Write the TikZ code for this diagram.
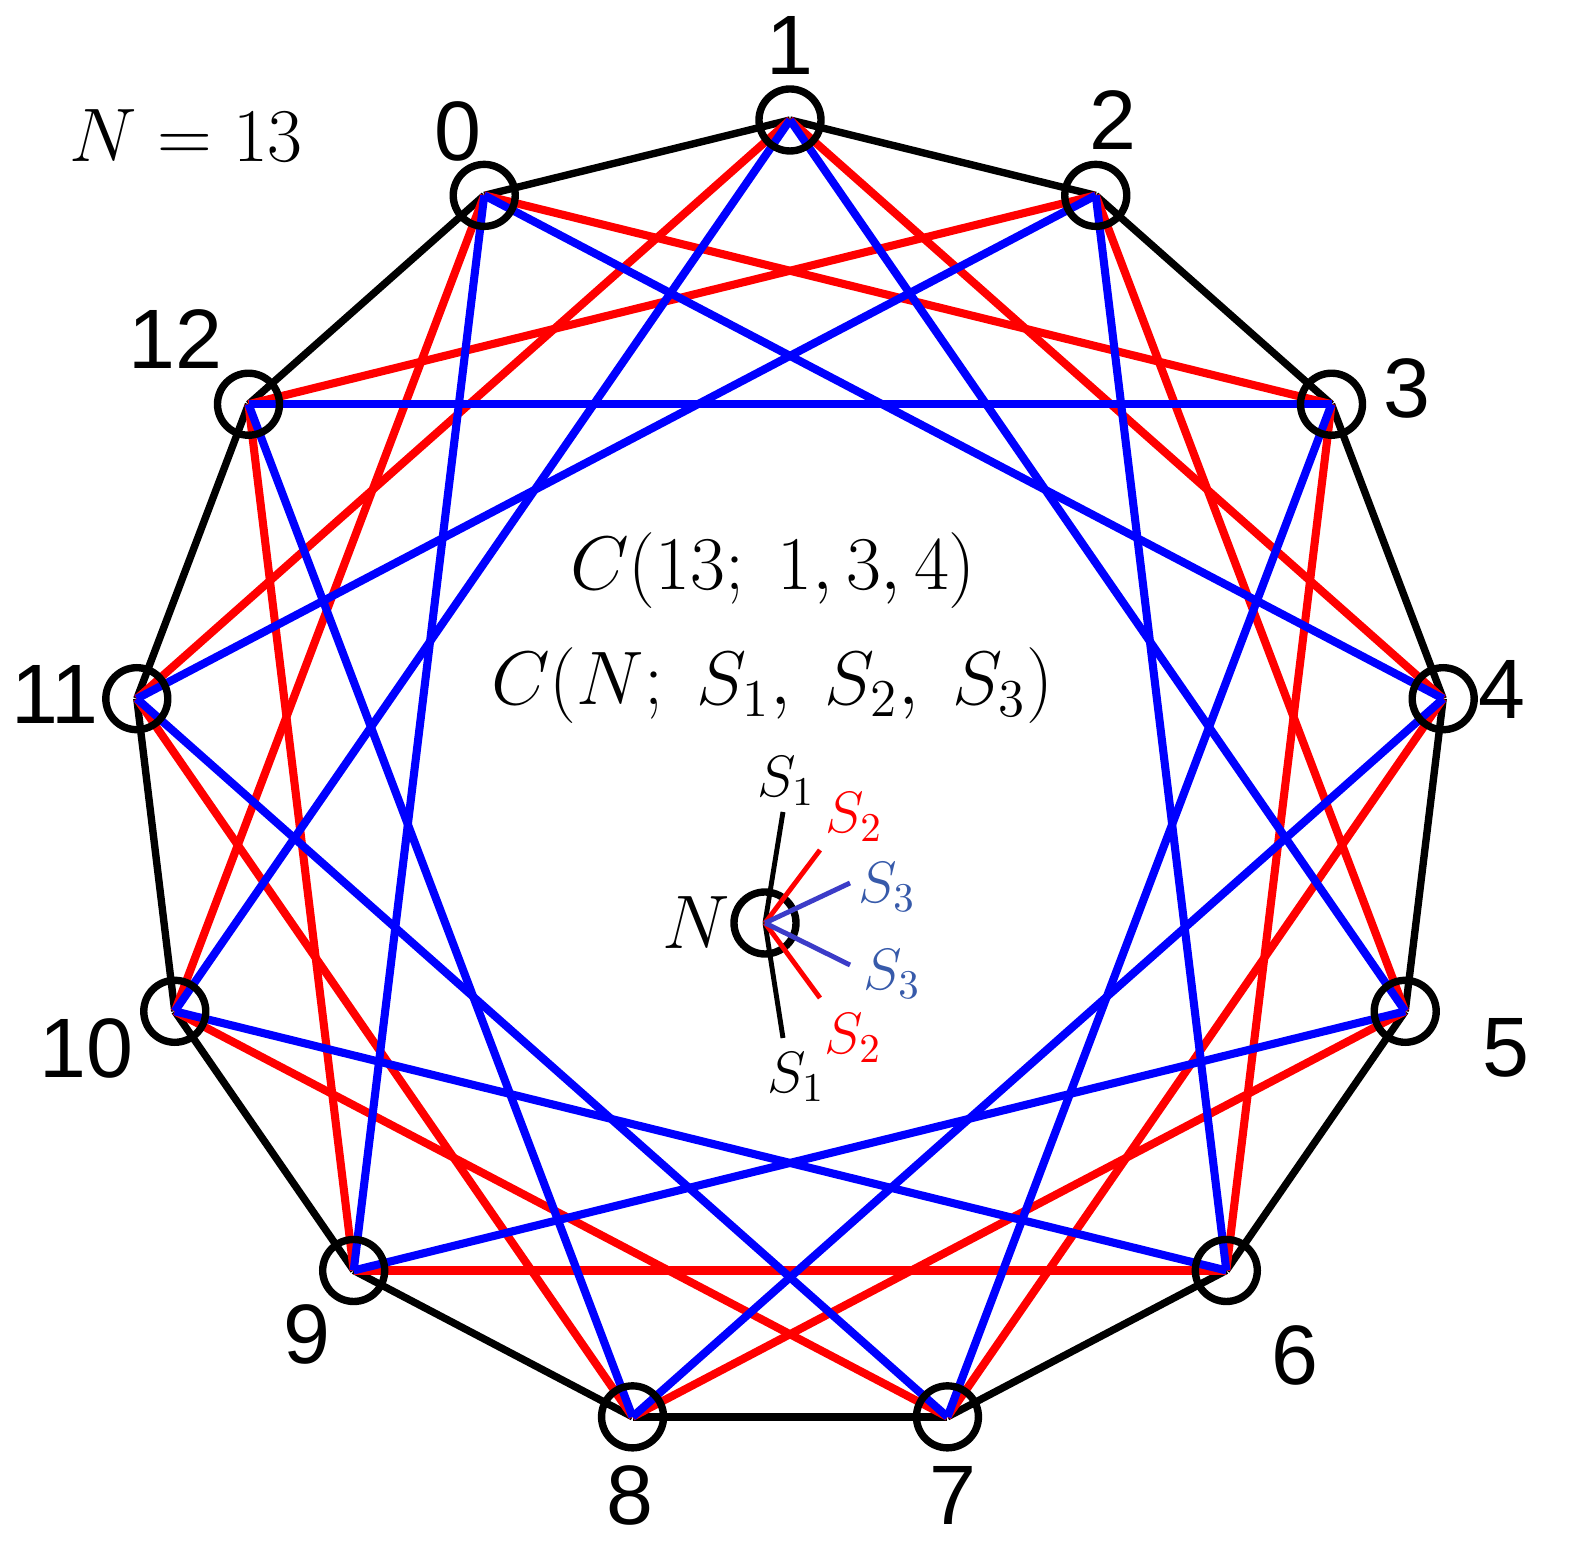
\RequirePackage{fix-cm}
\documentclass[tikz,border=0pt]{standalone}
\usepackage{fontspec}
\newfontfamily\labelfont{Liberation Sans}
\usetikzlibrary{backgrounds}
\definecolor{keyblue}{RGB}{60,60,200}
\definecolor{keytext}{RGB}{55,90,170}
\begin{document}
\begin{tikzpicture}[thick]
  % Define styles
  \tikzstyle{vertex} = [circle, draw, line width=2.1pt, minimum size=0.62cm, inner sep=0pt]
  \tikzstyle{num} = [font=\labelfont\fontsize{24}{28}\selectfont, inner sep=0pt]
  \tikzstyle{formula} = [font=\fontsize{21.6}{26}\selectfont, inner sep=0pt]
  \tikzstyle{tag} = [font=\fontsize{16.6}{20}\selectfont, inner sep=0pt]
  \tikzstyle{ring} = [line width=2.1pt]
  \tikzstyle{hopthree} = [red, line width=2.3pt]
  \tikzstyle{hopfour} = [blue, line width=2.3pt]
  \tikzstyle{key} = [line width=1.4pt]

  \useasboundingbox (-7.9,-7.79) rectangle (7.9,7.78);

  % Vertices 0..12, vertex 1 on top
  \foreach \i in {0,...,12}
    \node[vertex] (v\i) at ({90-(\i-1)*360/13}:6.58) {};

  % Vertex numbers
  \foreach \i/\a/\d in {0/112/0.69, 1/90/0.74, 2/77/0.77, 3/12/0.77, 4/9/0.59,
                        5/-20/1.07, 6/-51/1.09, 7/-86/0.79, 8/-92/0.79,
                        9/-126/0.79, 10/-157/0.96, 11/177/0.82, 12/138/0.98}
    \node[num] at ([shift={(\a:\d)}]v\i.center) {\i};

  % Edges: S1 = 1 (black), S2 = 3 (red), S3 = 4 (blue)
  \begin{pgfonlayer}{background}
    \foreach \i in {0,...,12} {
      \pgfmathtruncatemacro{\j}{mod(\i+1,13)}
      \draw[ring] (v\i.center) -- (v\j.center);
    }
    \foreach \i in {0,...,12} {
      \pgfmathtruncatemacro{\j}{mod(\i+3,13)}
      \draw[hopthree] (v\i.center) -- (v\j.center);
    }
    \foreach \i in {0,...,12} {
      \pgfmathtruncatemacro{\j}{mod(\i+4,13)}
      \draw[hopfour] (v\i.center) -- (v\j.center);
    }
  \end{pgfonlayer}

  % Labels
  \node[formula] (size) at (-6.04,6.42) {$N = 13$};
  \node[formula, anchor=base] (graph) at (-0.17,1.88) {$C(13;\; 1,3,4)$};
  \node[formula, anchor=base] (general) at (-0.18,0.73) {$C(N;\; S_1,\; S_2,\; S_3)$};

  % Key: one vertex and its six neighbours
  \node[vertex] (keynode) at (-0.25,-1.45) {};
  \node[formula, anchor=east] (keyname) at (keynode.west) {$N$};
  \coordinate (sa) at (-0.07,-0.34);
  \coordinate (sb) at (0.30,-0.72);
  \coordinate (sc) at (0.60,-1.05);
  \coordinate (sd) at (0.60,-1.87);
  \coordinate (se) at (0.30,-2.20);
  \coordinate (sf) at (-0.07,-2.60);
  \draw[key] (keynode.center) -- (sa);
  \draw[key] (keynode.center) -- (sf);
  \draw[key, red] (keynode.center) -- (sb);
  \draw[key, red] (keynode.center) -- (se);
  \draw[key, keyblue] (keynode.center) -- (sc);
  \draw[key, keyblue] (keynode.center) -- (sd);
  \node[tag] at (-0.04,-0.03) {$S_1$};
  \node[tag, red] at (0.64,-0.39) {$S_2$};
  \node[tag, keytext] at (0.97,-1.09) {$S_3$};
  \node[tag, keytext] at (1.02,-1.96) {$S_3$};
  \node[tag, red] at (0.63,-2.60) {$S_2$};
  \node[tag] at (0.06,-2.99) {$S_1$};

\end{tikzpicture}
\end{document}
